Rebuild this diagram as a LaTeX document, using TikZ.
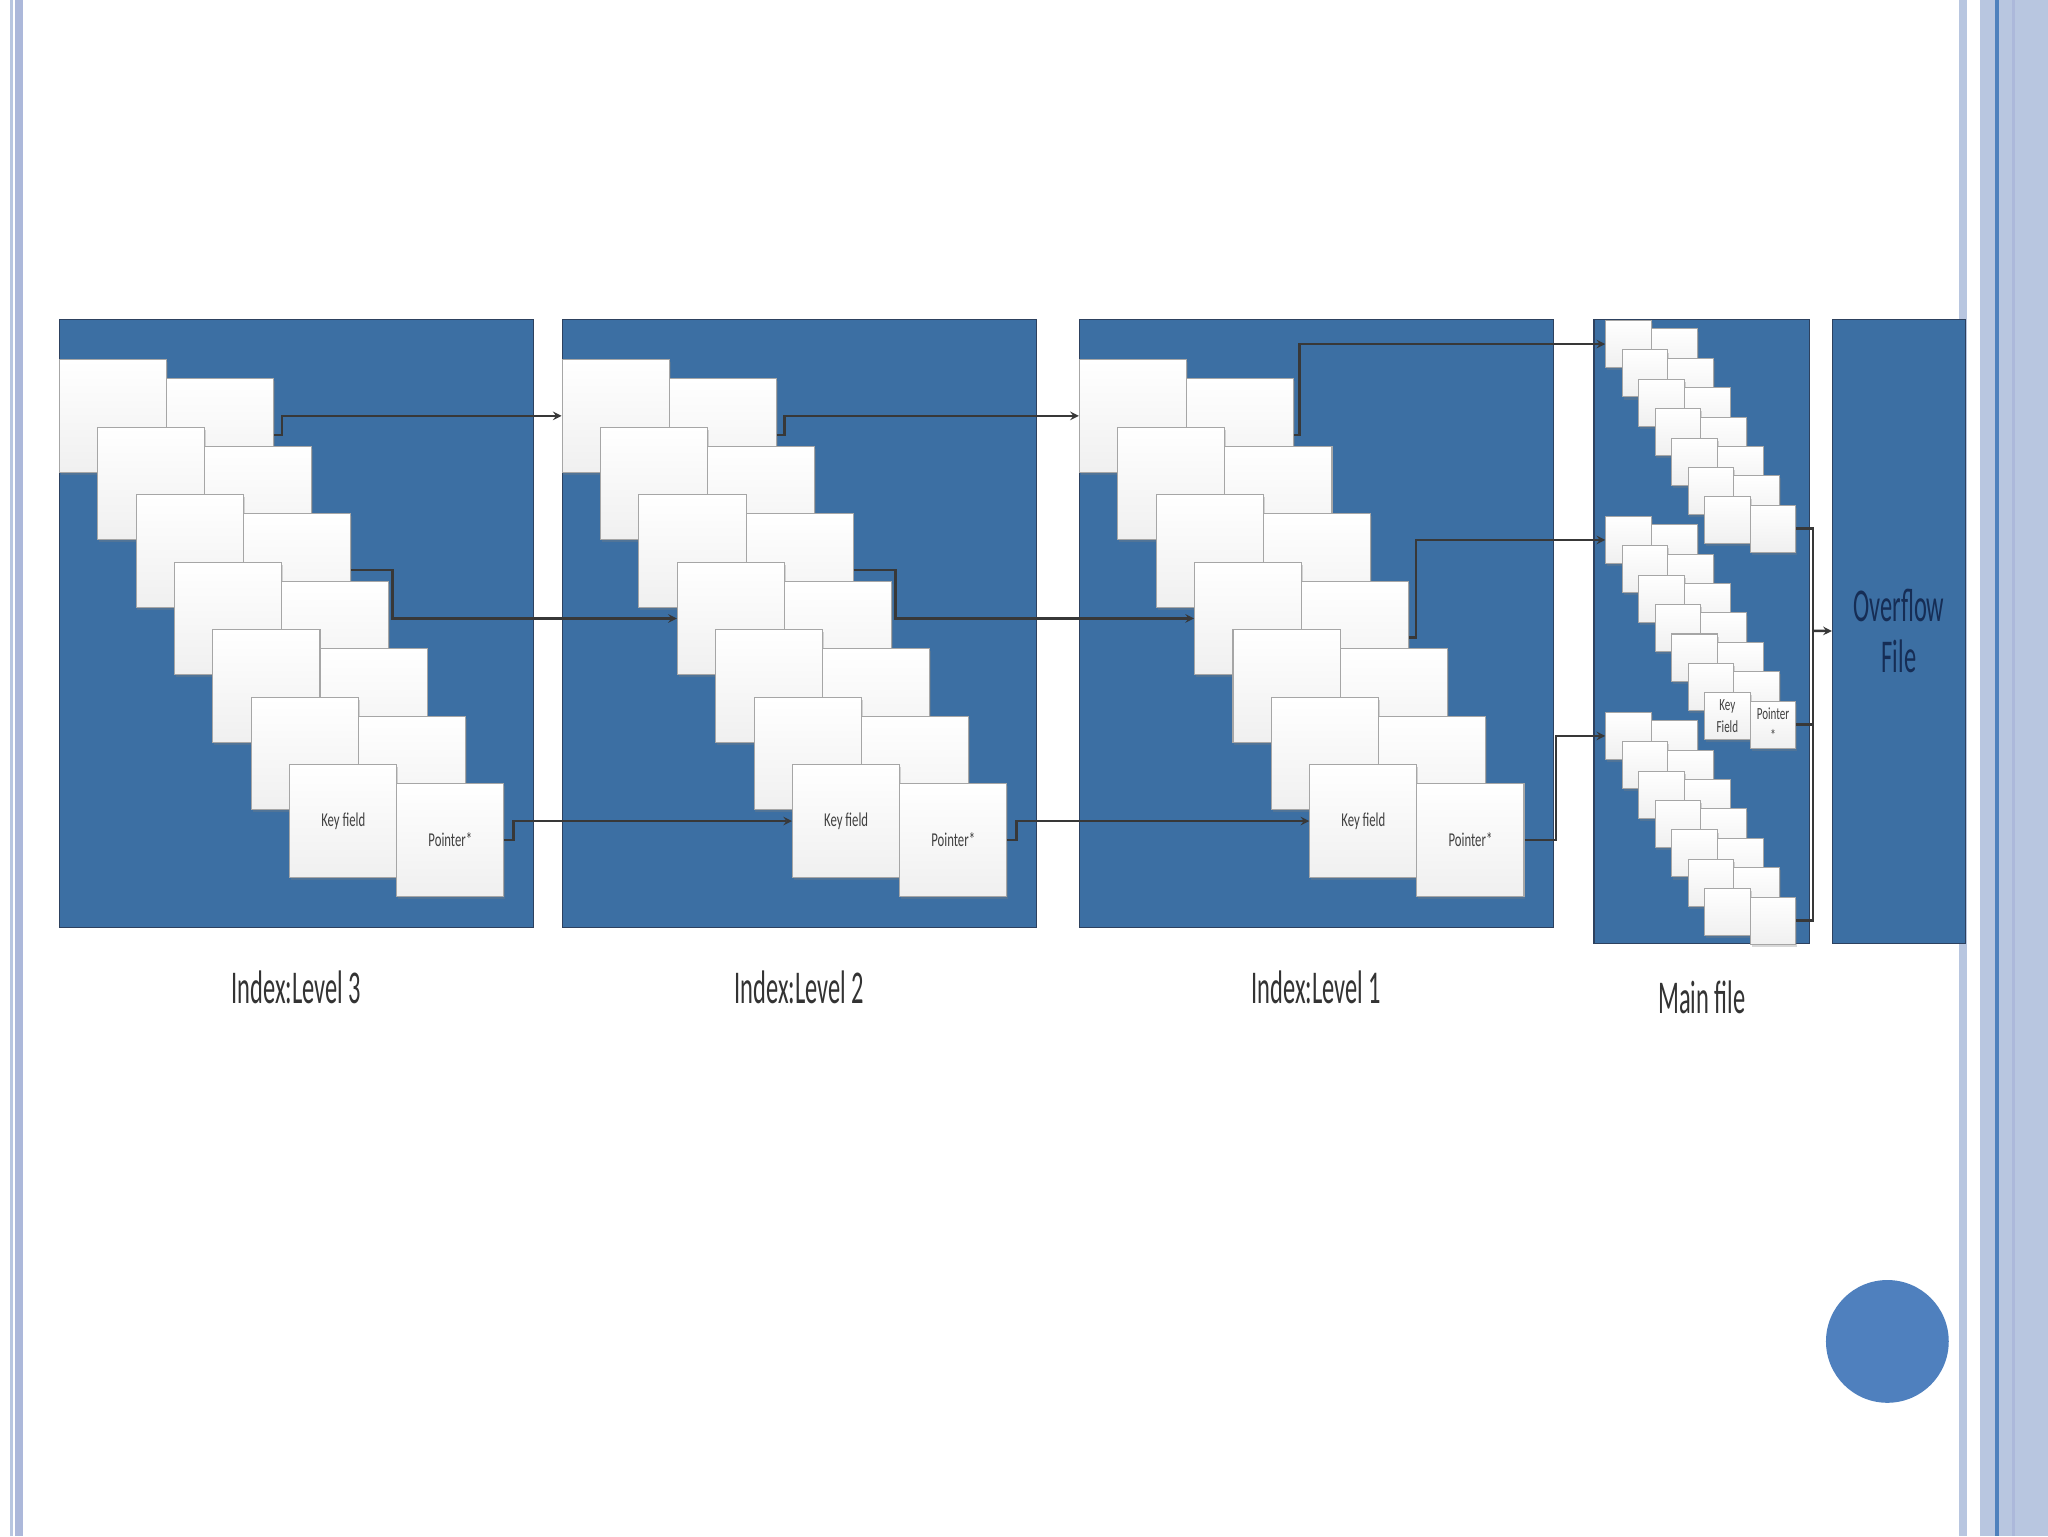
\documentclass[tikz,border=0pt]{standalone}
\usepackage{fontspec}
\usetikzlibrary{shapes.geometric, arrows, calc, positioning, shadows}
\newfontfamily\slidefont[FakeStretch=0.52]{Carlito}
\newfontfamily\cardfont[FakeStretch=0.65]{Carlito}
\definecolor{panelblue}{RGB}{60,111,163}
\definecolor{paneledge}{RGB}{45,65,95}
\definecolor{dotblue}{RGB}{79,128,190}
\definecolor{framelight}{RGB}{184,198,224}
\definecolor{framemid}{RGB}{172,184,218}
\definecolor{framedark}{RGB}{79,129,189}
\definecolor{navytext}{RGB}{22,45,85}
\tikzstyle{panel} = [rectangle, anchor=north west, draw=paneledge, line width=0.8pt, fill=panelblue, inner sep=0pt]
\tikzstyle{card} = [rectangle, anchor=north west, draw=gray!70, line width=0.8pt, top color=white, bottom color=gray!12, inner sep=0pt, text=black!75, align=center, drop shadow={shadow xshift=1pt, shadow yshift=-2pt, opacity=0.3}]
\tikzstyle{idxcard} = [card, minimum width=82pt, minimum height=86pt, font=\cardfont\fontsize{15}{17}\selectfont]
\tikzstyle{reccard} = [card, minimum width=35pt, minimum height=36pt, font=\cardfont\fontsize{13}{17}\selectfont]
\tikzstyle{caption} = [font=\slidefont\fontsize{36}{40}\selectfont, text=black!80, inner sep=0pt]
\tikzstyle{arrow} = [line width=1.9pt, ->, >=stealth, draw=black!78]
\tikzstyle{link} = [line width=1.9pt, draw=black!78]

\begin{document}
\begin{tikzpicture} [x=1pt, y=-1pt]
  \fill[white] (0,0) rectangle (1568,1176);
  \useasboundingbox (0,0) rectangle (1568,1176);

  % slide frame
  \fill[framelight] (7.7,0) rectangle (9.7,1176);
  \fill[framemid] (11.7,0) rectangle (17.8,1176);
  \fill[framelight] (1499.5,0) rectangle (1506,1176);
  \fill[framelight] (1516,0) rectangle (1568,1176);
  \fill[framedark] (1527.6,0) rectangle (1530.2,1176);
  \fill[framemid] (1540.3,0) rectangle (1542.9,1176);
  \node[circle, fill=dotblue, minimum size=94pt, inner sep=0pt] (dot) at (1445,1027) {};

  % index levels
  \foreach \lv/\px in {3/45, 2/430, 1/826}{
    \node[panel, minimum width=363pt, minimum height=466pt] (lvl\lv) at (\px,244) {};
    \foreach \i in {0,...,6}{
      \node[idxcard] (k\lv-\i) at ({\px+29.4*\i}, {275+51.7*\i}) {\ifnum\i=6 Key field\fi};
      \node[idxcard] (p\lv-\i) at ({\px+82+29.4*\i}, {289.5+51.7*\i}) {\ifnum\i=6 Pointer*\fi};
    }
    \node[caption] (cap\lv) at ($(lvl\lv.south)+(0,45)$) {Index:Level \lv};
  }

  % main file
  \node[panel, minimum width=165pt, minimum height=478pt] (mainf) at (1220,244) {};
  \foreach \g/\gy in {1/245, 2/395, 3/545}{
    \foreach \i in {0,...,6}{
      \node[reccard] (m\g-\i) at ({1229+12.6*\i}, {\gy+22.5*\i}) {\ifnum\g\i=26 Key\\Field\fi};
      \node[reccard] (q\g-\i) at ({1264+12.6*\i}, {\gy+6.4+22.5*\i}) {\ifnum\g\i=26 Pointer\\*\fi};
    }
  }
  \node[caption] (capm) at ($(mainf.south)+(0,41)$) {Main file};

  \node[panel, minimum width=102pt, minimum height=478pt, font=\slidefont\fontsize{36}{39}\selectfont, text=navytext, align=center] (overflow) at (1402.5,244) {Overflow\\File};

  \foreach \a/\b in {3/2, 2/1}{
    \draw[arrow] (p\a-0.east) -- ++(6,0) |- (k\b-0.west);
    \draw[arrow] (p\a-2.east) -- ++(32,0) |- (k\b-3.west);
    \draw[arrow] (p\a-6.east) -- ++(7,0) |- (k\b-6.west);
  }
  \draw[arrow] (p1-0.east) -- ++(4,0) |- (m1-0.west);
  \draw[arrow] (p1-3.east) -- ++(5,0) |- (m2-0.west);
  \draw[arrow] (p1-6.east) -- ++(24,0) |- (m3-0.west);

  \coordinate (join) at (1388,483);
  \foreach \g in {1,2,3}
    \draw[link] (q\g-6.east) -| (join);
  \draw[arrow] (join) -- (overflow);
\end{tikzpicture}
\end{document}
